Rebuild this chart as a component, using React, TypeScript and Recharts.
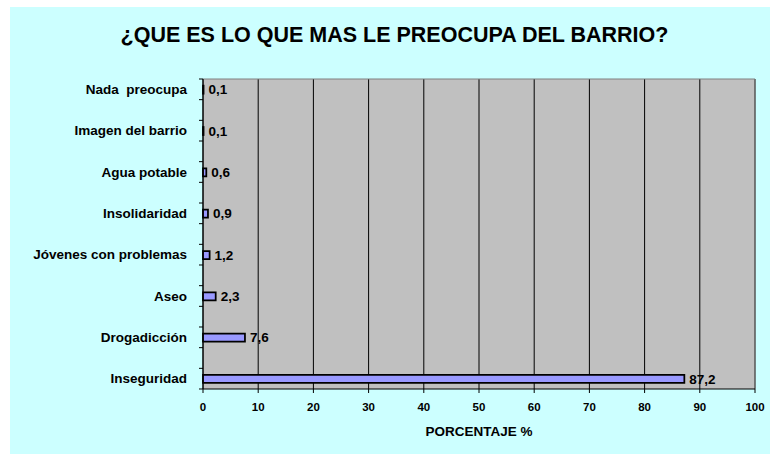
import React from "react";
import { Bar, BarChart, CartesianGrid, LabelList, XAxis, YAxis } from "recharts";

const categories = [
  "Nada  preocupa",
  "Imagen del barrio",
  "Agua potable",
  "Insolidaridad",
  "Jóvenes con problemas",
  "Aseo",
  "Drogadicción",
  "Inseguridad",
];
const percentages = [0.1, 0.1, 0.6, 0.9, 1.2, 2.3, 7.6, 87.2];
const xTicks = [0, 10, 20, 30, 40, 50, 60, 70, 80, 90, 100];

const data = categories.map((name, i) => ({ name, value: percentages[i] }));

const fmt = (v: number) => v.toFixed(1).replace(".", ",");

const TICK = 4;
const GAP = 12;

function CategoryTick(props: any) {
  const { x, y, payload } = props;
  const quarter = (payload && payload.offset ? payload.offset : 20.67) / 2;
  const lx1 = x + GAP;
  const lx2 = x + GAP + TICK;
  return (
    <g>
      <line x1={lx1} x2={lx2} y1={y - quarter} y2={y - quarter} stroke="#000" />
      <line x1={lx1} x2={lx2} y1={y + quarter} y2={y + quarter} stroke="#000" />
      <text
        x={x}
        y={y}
        dy="0.35em"
        textAnchor="end"
        fontSize={13.5}
        fontWeight="bold"
        fill="#000"
        xmlSpace="preserve"
        style={{ whiteSpace: "pre" }}
      >
        {payload.value}
      </text>
    </g>
  );
}

export default function App() {
  return (
    <div
      style={{
        position: "absolute",
        left: 10,
        top: 7,
        width: 760,
        height: 447,
        background: "#CCFFFF",
        fontFamily: "'Liberation Sans', Arial, sans-serif",
      }}
    >
      <div
        style={{
          position: "absolute",
          left: 9,
          top: 18,
          width: 751,
          textAlign: "center",
          fontSize: 21.5,
          lineHeight: "21.5px",
          fontWeight: "bold",
          color: "#000",
          whiteSpace: "nowrap",
        }}
      >
        ¿QUE ES LO QUE MAS LE PREOCUPA DEL BARRIO?
      </div>
      <BarChart
        width={760}
        height={447}
        data={data}
        layout="vertical"
        margin={{ top: 72, right: 15, bottom: 15, left: 0 }}
      >
        <CartesianGrid horizontal={false} stroke="#000" fill="#C0C0C0" fillOpacity={1} />
        <CartesianGrid
          horizontalCoordinatesGenerator={({ offset }: any) => [offset.top]}
          verticalCoordinatesGenerator={({ offset }: any) => [offset.left + offset.width]}
          stroke="#808080"
        />
        <XAxis
          type="number"
          domain={[0, 100]}
          ticks={xTicks}
          interval={0}
          height={50}
          tickSize={TICK}
          tickMargin={10}
          axisLine={{ stroke: "#000" }}
          tickLine={{ stroke: "#000" }}
          tick={{ fill: "#000", fontSize: 11.5, fontWeight: "bold" }}
          label={{
            value: "PORCENTAJE %",
            position: "insideBottom",
            offset: 3,
            fill: "#000",
            fontSize: 13.5,
            fontWeight: "bold",
          }}
        />
        <YAxis
          type="category"
          dataKey="name"
          width={193}
          interval={0}
          padding={{ top: -10.33, bottom: -10.33 }}
          tickSize={TICK}
          tickMargin={GAP}
          tickLine={false}
          axisLine={{ stroke: "#000" }}
          tick={CategoryTick}
        />
        <Bar
          dataKey="value"
          fill="#9999FF"
          stroke="#000"
          strokeWidth={1.75}
          barSize={8}
          isAnimationActive={false}
        >
          <LabelList
            dataKey="value"
            position="right"
            offset={5}
            formatter={fmt as any}
            fill="#000"
            fontSize={13.5}
            fontWeight="bold"
          />
        </Bar>
      </BarChart>
    </div>
  );
}
